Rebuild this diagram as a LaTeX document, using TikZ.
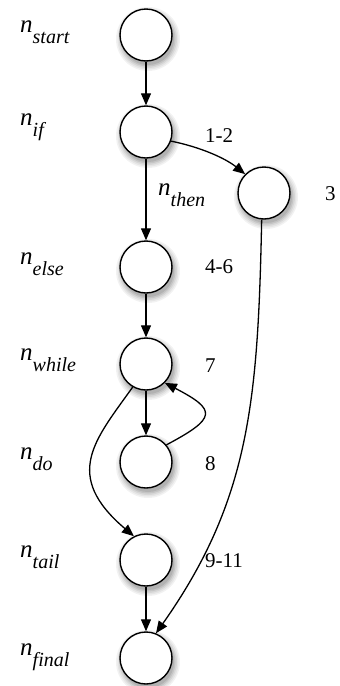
\documentclass[tikz,border=0pt]{standalone}
\usepackage{fontspec}
\setmainfont{Liberation Serif}
\usetikzlibrary{arrows.meta}
\newcommand\nsub[1]{n\raisebox{-11pt}{\fontsize{20}{20}\selectfont #1}}
\begin{document}
\begin{tikzpicture}[x=1pt,y=-1pt,
  state/.style={circle,draw,line width=1.4pt,fill=white,minimum size=52pt,inner sep=0pt},
  arr/.style={line width=1.3pt,-{Triangle[length=12pt,width=10pt]}},
  lbl/.style={anchor=base west,inner sep=0pt,font=\fontsize{25}{25}\selectfont\itshape},
  num/.style={anchor=base west,inner sep=0pt,font=\fontsize{21}{21}\selectfont}]
\useasboundingbox (0,0) rectangle (340,686);
% centres
\coordinate (cstart) at (146,35);
\coordinate (cif) at (146,132);
\coordinate (cthree) at (264,193);
\coordinate (celse) at (146,267);
\coordinate (cwhile) at (146,364);
\coordinate (cdo) at (146,462);
\coordinate (ctail) at (146,560);
\coordinate (cfinal) at (146,658);
% shadows
\foreach \n in {start,if,three,else,while,do,tail,final}{
  \fill[black!5] ([shift={(2,4)}]c\n) circle[radius=32];
  \fill[black!10] ([shift={(2,4)}]c\n) circle[radius=30.5];
  \fill[black!16] ([shift={(2,4)}]c\n) circle[radius=29];
  \fill[black!23] ([shift={(2,4)}]c\n) circle[radius=27.5];
  \fill[black!30] ([shift={(2,4)}]c\n) circle[radius=26];
}
% states
\foreach \n in {start,if,three,else,while,do,tail,final}{
  \node[state] (\n) at (c\n) {};
}
% left labels
\node[lbl] (lstart) at (20,32) {\nsub{start}};
\node[lbl] (lif) at (20,125) {\nsub{if}};
\node[lbl] (lelse) at (20,264) {\nsub{else}};
\node[lbl] (lwhile) at (20,360) {\nsub{while}};
\node[lbl] (ldo) at (20,459) {\nsub{do}};
\node[lbl] (ltail) at (20,557) {\nsub{tail}};
\node[lbl] (lfinal) at (20,655) {\nsub{final}};
\node[lbl] (lthen) at (158,195) {\nsub{then}};
% numbers
\node[num] (n12) at (205,142) {1-2};
\node[num] (n3) at (325,200) {3};
\node[num] (n46) at (205,273) {4-6};
\node[num] (n7) at (205,372) {7};
\node[num] (n8) at (205,470) {8};
\node[num] (n911) at (205,567) {9-11};
% edges
\draw[arr] (start) -- (if);
\draw[arr] (if.-20) .. controls (200,147) and (225,158) .. (three.135);
\draw[arr] (if) -- (else);
\draw[arr] (else) -- (while);
\draw[arr] (while) -- (do);
\draw[arr] (do.40) .. controls (217,418) and (217,410) .. (while.-45);
\draw[arr] (while.-120) .. controls (95,440) and (62,475) .. (tail.117);
\draw[arr] (tail) -- (final);
\draw[arr] (three.-95) .. controls (258,400) and (250,500) .. (final.68);
\end{tikzpicture}
\end{document}
